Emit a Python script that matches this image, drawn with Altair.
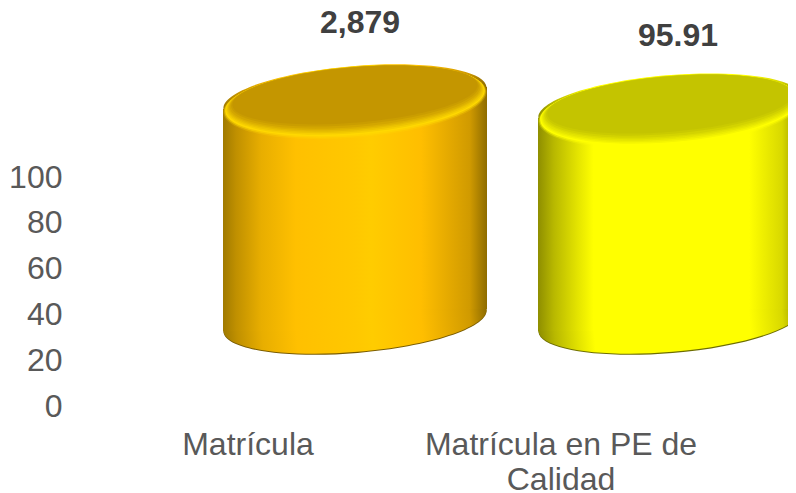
import altair as alt
import pandas as pd

categories = ["Matrícula", "Matrícula en PE de Calidad"]
heights = [100, 95.91]
value_labels = ["2,879", "95.91"]
label_heights = [133.8, 127.9]
axis_ticks = [0, 20, 40, 60, 80, 100]

df = pd.DataFrame({
    "cat": categories,
    "value": heights,
    "label": value_labels,
    "label_h": label_heights,
})
df["zero"] = 0

PW, PH = 718, 398
PPU = 2.22
BASE_PX = 312  # plot px of cylinder base centre
cyl_dom = [-(PH - BASE_PX) / PPU, BASE_PX / PPU]
TILT = 11 / PPU
df["top_l"] = df["value"] - TILT
df["bot_l"] = -TILT
df["top_r"] = df["value"] + TILT
df["bot_r"] = TILT


def band(c1, c2):
    s = c2 - c1
    return [c1 - s / 2, c2 + s / 2]


def xs(shift=0, c1=285, c2=600):
    return alt.X("cat:N", axis=None, sort=categories,
                 scale=alt.Scale(type="band", domain=categories, range=band(c1 + shift, c2 + shift), padding=0))


def ys(field):
    return alt.Y(field, axis=None, scale=alt.Scale(domain=cyl_dom, range=[PH, 0], nice=False, zero=False))


def grad(stops):
    return alt.LinearGradient(gradient="linear", x1=0, y1=0, x2=1, y2=0,
                              stops=[alt.GradientStop(offset=o, color=c) for o, c in stops])


def mix(c1, c2, f):
    a = [int(c1[j:j + 2], 16) for j in (1, 3, 5)]
    b = [int(c2[j:j + 2], 16) for j in (1, 3, 5)]
    return "#%02X%02X%02X" % tuple(round(x + (y - x) * f) for x, y in zip(a, b))


ELL = "M-1,0 A1,{b} 0 1 1 1,0 A1,{b} 0 1 1 -1,0 Z"
ANGLE = 355.25

palette = [
    dict(left=[(0, "#A07A00"), (0.1, "#C09000"), (0.29, "#E8AE00"), (0.55, "#FFC000"), (1, "#FFC800")],
         right=[(0, "#FFC800"), (0.12, "#FFCC00"), (0.5, "#FFBE00"), (0.87, "#D09A00"), (1, "#8E6C00")],
         top="#C49600", rim="#FFD800", shade="#7A5C00"),
    dict(left=[(0, "#8E8E00"), (0.12, "#B8B800"), (0.3, "#E4E400"), (0.42, "#FFFF00"), (1, "#FFFF00")],
         right=[(0, "#FFFF00"), (0.6, "#FFFF00"), (0.85, "#D8D800"), (1, "#8A8A00")],
         top="#C4C400", rim="#FFFF00", shade="#6E6E00"),
]

# bevel steps: position between the outer and the inner outline, share of top colour, opacity
bevel_steps = [
    (0.0, 0.0, 0.25), (0.1, 0.0, 0.55), (0.2, 0.0, 1.0), (0.3, 0.15, 1.0), (0.4, 0.3, 1.0),
    (0.5, 0.45, 1.0), (0.6, 0.6, 1.0), (0.7, 0.75, 1.0), (0.85, 0.9, 1.0), (1.0, 1.0, 1.0),
]

layers = []
axis_layer = alt.Chart(df).mark_point(opacity=0).encode(
    x=alt.X("cat:N", sort=categories,
            scale=alt.Scale(type="band", domain=categories, range=band(178, 491), padding=0),
            axis=alt.Axis(title=None, domain=False, ticks=False, labelAngle=0, labelFontSize=32,
                          labelFont="Liberation Sans", labelColor="#595959", labelPadding=23,
                          labelLineHeight=35, labelLimit=500, labelBaseline="top",
                          labelExpr="datum.label == 'Matrícula en PE de Calidad' ? ['Matrícula en PE de', 'Calidad'] : datum.label")),
    y=alt.Y("value:Q", scale=alt.Scale(domain=[0, PH / 2.29], range=[PH, 0], nice=False),
            axis=alt.Axis(title=None, domain=False, ticks=False, grid=False, values=axis_ticks,
                          labelFontSize=32, labelFont="Liberation Sans", labelColor="#595959",
                          labelPadding=8)),
)
layers.append(axis_layer)

for i, cat in enumerate(categories):
    p = palette[i]
    sub = alt.Chart(df).transform_filter(alt.datum.cat == cat)
    full_stops = [(o / 2, c) for o, c in p["left"]] + [(0.5 + o / 2, c) for o, c in p["right"][1:]]
    full = grad(full_stops)
    left = grad(p["left"])
    right = grad(p["right"])

    def ell(b, width, fill, yfield, opacity=1):
        return sub.mark_point(shape=ELL.format(b=b), size=width ** 2, angle=ANGLE, filled=True,
                              fill=fill, opacity=opacity, strokeWidth=0).encode(x=xs(), y=ys(yfield))

    layers.append(ell(0.242, 264, p["shade"], "under:Q").transform_calculate(under="-0.5"))
    layers.append(ell(0.242, 264, full, "zero:Q"))
    layers.append(sub.mark_bar(width=132, fill=left).encode(x=xs(-66), y=ys("top_l:Q"), y2="bot_l:Q"))
    layers.append(sub.mark_bar(width=132, fill=right).encode(x=xs(66), y=ys("top_r:Q"), y2="bot_r:Q"))
    layers.append(ell(0.242, 264, full, "value:Q"))
    for t, share, op in bevel_steps:
        shift = -1.8 + t * (1.35 + 1.8)
        layers.append(
            ell(0.27 + t * (0.225 - 0.27), 264 + t * (246 - 264), mix(p["rim"], p["top"], share), "lvl:Q", op)
            .transform_calculate(lvl=f"datum.value + {shift:.3f}")
        )

layers.append(
    alt.Chart(df).mark_text(font="Liberation Sans", fontWeight="bold", fontSize=32, color="#404040",
                            baseline="middle", align="center").encode(
        x=xs(c1=290, c2=608), y=ys("label_h:Q"), text="label:N")
)

chart = alt.layer(*layers).resolve_scale(x="independent", y="independent").properties(
    width=PW, height=PH,
    padding={"left": 62, "top": 0, "right": 0, "bottom": 86},
    autosize=alt.AutoSizeParams(type="none", contains="content"),
    background="white",
).configure_view(stroke=None)

chart.save("out.html", embed_options={"renderer": "svg", "actions": False})
